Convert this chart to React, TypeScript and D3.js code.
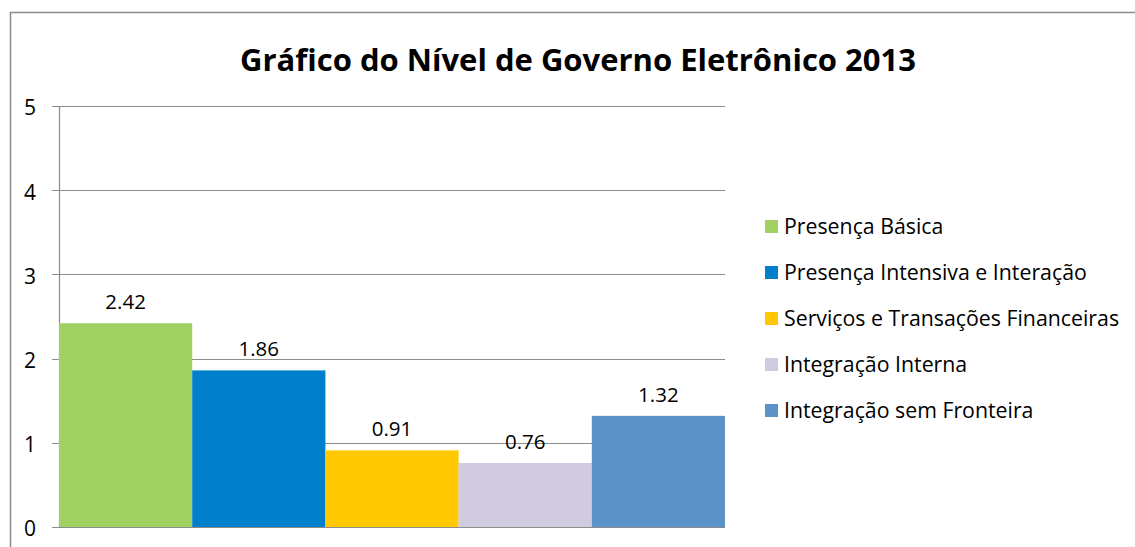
import React, { useEffect, useRef } from 'react';
import * as d3 from 'd3';

const categories = [
  'Presença Básica',
  'Presença Intensiva e Interação',
  'Serviços e Transações Financeiras',
  'Integração Interna',
  'Integração sem Fronteira',
];
const values = [2.42, 1.86, 0.91, 0.76, 1.32];
const colors = ['#A0D162', '#0080CC', '#FFC800', '#D1CBE0', '#5B93C8'];
const yTicks = [0, 1, 2, 3, 4, 5];
const title = 'Gráfico do Nível de Governo Eletrônico 2013';

const App: React.FC = () => {
  const svgRef = useRef<SVGSVGElement>(null);

  useEffect(() => {
    if (!svgRef.current) return;
    const width = 1135;
    const height = 547;
    const font = '"Open Sans", sans-serif';

    const svg = d3.select(svgRef.current)
      .attr('width', width)
      .attr('height', height)
      .html('');

    // outer frame
    svg.append('rect')
      .attr('x', 10.5).attr('y', 12.5)
      .attr('width', 1140).attr('height', 560)
      .attr('fill', 'white')
      .attr('stroke', '#8c8c8c')
      .attr('stroke-width', 1.5);

    svg.append('text')
      .attr('x', 578).attr('y', 71)
      .attr('text-anchor', 'middle')
      .attr('font-family', font)
      .attr('font-weight', 'bold')
      .attr('font-size', 31)
      .attr('fill', '#000')
      .text(title);

    const x = d3.scaleBand<string>()
      .domain(categories)
      .range([59, 725])
      .paddingInner(0)
      .paddingOuter(0);

    const y = d3.scaleLinear().domain([0, 5]).range([527, 106]);

    // gridlines + ticks
    const grid = svg.append('g');
    grid.selectAll('line')
      .data(yTicks)
      .enter()
      .append('line')
      .attr('x1', 52).attr('x2', 725)
      .attr('y1', d => Math.round(y(d)) + 0.5)
      .attr('y2', d => Math.round(y(d)) + 0.5)
      .attr('stroke', '#8c8c8c')
      .attr('stroke-width', 1.2);

    svg.append('line')
      .attr('x1', 59.5).attr('x2', 59.5)
      .attr('y1', y(5)).attr('y2', y(0))
      .attr('stroke', '#8c8c8c')
      .attr('stroke-width', 1.2);

    svg.append('g').selectAll('text')
      .data(yTicks)
      .enter()
      .append('text')
      .attr('x', 30)
      .attr('y', d => y(d) + 2)
      .attr('dy', '0.35em')
      .attr('text-anchor', 'middle')
      .attr('font-family', font)
      .attr('font-size', 21)
      .attr('fill', '#000')
      .text(d => d);

    // bars
    svg.append('g').selectAll('rect')
      .data(values)
      .enter()
      .append('rect')
      .attr('x', (_, i) => x(categories[i])!)
      .attr('y', d => y(d))
      .attr('width', x.bandwidth())
      .attr('height', d => y(0) - y(d))
      .attr('fill', (_, i) => colors[i]);

    // value labels
    svg.append('g').selectAll('text')
      .data(values)
      .enter()
      .append('text')
      .attr('x', (_, i) => x(categories[i])! + x.bandwidth() / 2)
      .attr('y', d => y(d) - 14)
      .attr('text-anchor', 'middle')
      .attr('font-family', font)
      .attr('font-size', 20.5)
      .attr('fill', '#000')
      .text(d => d.toFixed(2));

    // legend
    const legend = svg.append('g')
      .selectAll('g')
      .data(categories)
      .enter()
      .append('g')
      .attr('transform', (_, i) => `translate(765, ${227 + i * 46})`);

    legend.append('rect')
      .attr('x', 0).attr('y', -7)
      .attr('width', 13).attr('height', 13)
      .attr('fill', (_, i) => colors[i]);

    legend.append('text')
      .attr('x', 19)
      .attr('y', 0)
      .attr('dy', '0.35em')
      .attr('font-family', font)
      .attr('font-size', 21.3)
      .attr('fill', '#000')
      .text(d => d);
  }, []);

  return (
    <div style={{ position: 'absolute', left: 0, top: 0 }}>
      <svg ref={svgRef} style={{ display: 'block' }} />
    </div>
  );
};

export default App;
